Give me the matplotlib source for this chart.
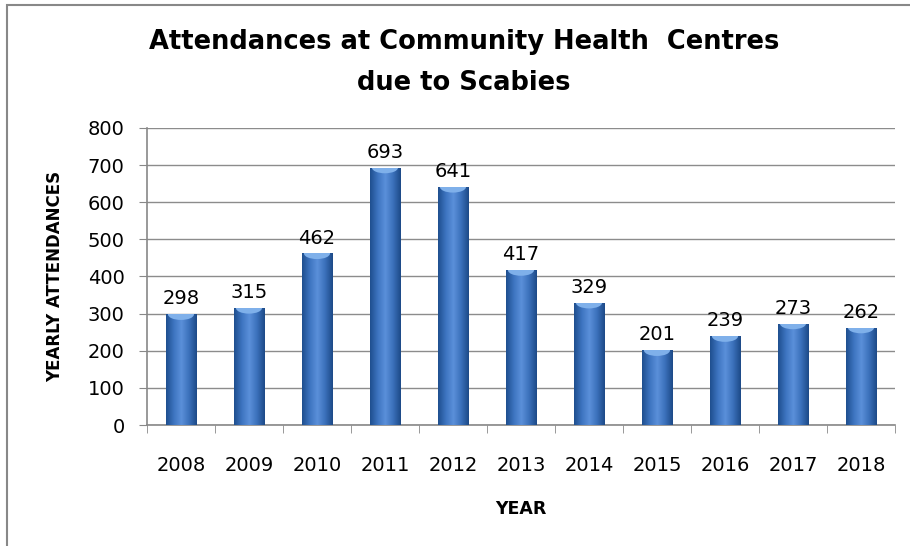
import matplotlib.pyplot as plt
import numpy as np
from matplotlib.colors import LinearSegmentedColormap
from matplotlib.patches import Ellipse

years = ['2008', '2009', '2010', '2011', '2012', '2013', '2014', '2015', '2016', '2017', '2018']
attendances = [298, 315, 462, 693, 641, 417, 329, 201, 239, 273, 262]

plt.rcParams['font.family'] = ['DejaVu Sans']

fig = plt.figure(figsize=(9.1, 5.46), dpi=100)
ax = fig.add_axes([0.1615, 0.2216, 0.822, 0.544])

x = np.arange(len(years))
bars = ax.bar(x, attendances, width=0.45, color='#3f75c0', zorder=3)

# cylinder-ish shading
cmap = LinearSegmentedColormap.from_list('cyl', ['#1f4f8f', '#3d74c0', '#5b90da', '#3b71bb', '#1d4a88'])
grad = np.linspace(0, 1, 64).reshape(1, -1)
for b in bars:
    x0, w, h = b.get_x(), b.get_width(), b.get_height()
    im = ax.imshow(grad, cmap=cmap, extent=[x0, x0 + w, 0, h], aspect='auto', zorder=4)
    im.set_clip_path(b)
    cap = Ellipse((x0 + w / 2, h), w * 0.85, 30, facecolor='#7fb0ea', edgecolor='none', zorder=5)
    ax.add_patch(cap)
    cap.set_clip_path(b)

for xi, v in zip(x, attendances):
    ax.text(xi, v + 16, str(v), ha='center', va='bottom', fontsize=14, zorder=6)

ax.set_xlim(-0.5, len(years) - 0.5)
ax.set_ylim(0, 800)
ax.set_yticks(range(0, 801, 100))
ax.set_xticks(x)
ax.set_xticklabels(years)
ax.set_xticks(np.arange(-0.5, len(years)), minor=True)
ax.tick_params(axis='x', which='major', length=0, pad=22, labelsize=14)
ax.tick_params(axis='x', which='minor', length=6, color='#888888')
ax.tick_params(axis='y', length=6, color='#888888', labelsize=14, pad=10)
ax.grid(axis='y', color='#8c8c8c', linewidth=1, zorder=0)
for s in ['top', 'right']:
    ax.spines[s].set_visible(False)
ax.spines['left'].set_color('#888888')
ax.spines['bottom'].set_color('#888888')
ax.spines['left'].set_linewidth(1.2)
ax.spines['bottom'].set_linewidth(1.2)

ax.set_ylabel('YEARLY ATTENDANCES', fontsize=12, fontweight='bold', labelpad=17)
ax.set_xlabel('YEAR', fontsize=12.5, fontweight='bold', labelpad=18)

fig.text(0.51, 0.886, 'Attendances at Community Health  Centres\ndue to Scabies',
         ha='center', va='center', fontsize=18.5, fontweight='bold', linespacing=1.75)

border = plt.Rectangle((0.0075, -0.1), 1.2, 1.09, transform=fig.transFigure,
                       fill=False, edgecolor='#888888', linewidth=1.5)
fig.patches.append(border)

fig.savefig('out.png', dpi=100)
